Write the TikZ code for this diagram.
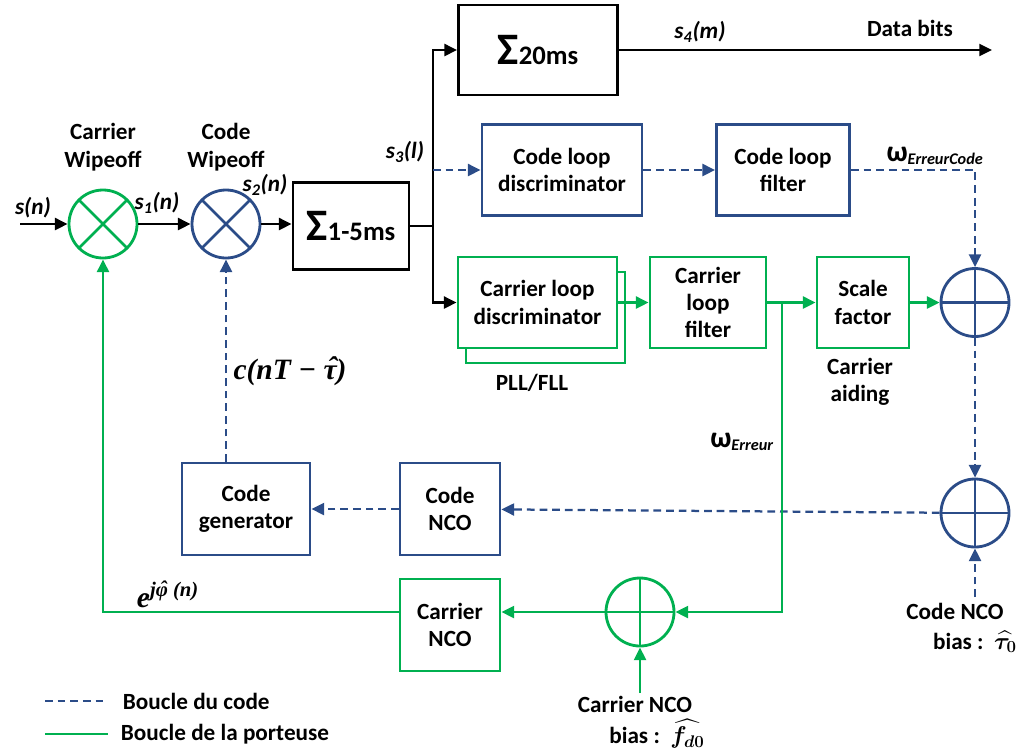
\documentclass[tikz,border=0pt]{standalone}
\usepackage{fontspec}
\setmainfont{Carlito}
\newfontfamily\lserif{Liberation Serif}
\usepackage{amsmath}
\usetikzlibrary{calc,arrows.meta,positioning}
\definecolor{CodeBlue}{HTML}{2B4C88}
\definecolor{CarrGreen}{HTML}{00B050}
\newcommand\hatchar[1]{\ooalign{#1\cr\hidewidth\kern0.15em\raisebox{0.1ex}{\char"02C6}\hidewidth\cr}}

\begin{document}
\begin{tikzpicture}[x=0.025cm,y=-0.025cm,
  font=\fontsize{16.5}{19.5}\selectfont\bfseries,
  >={Triangle[length=9pt,width=8.5pt]},
  box/.style={draw,line width=2pt,align=center,inner sep=0pt,fill=white},
  codebox/.style={box,draw=CodeBlue},
  carrbox/.style={box,draw=CarrGreen},
  mixer/.style={circle,draw=#1,line width=2pt,minimum size=1.7cm,inner sep=0pt,
    path picture={\draw[#1,line width=2pt]
      (path picture bounding box.north west)--(path picture bounding box.south east)
      (path picture bounding box.south west)--(path picture bounding box.north east);}},
  adder/.style={circle,draw=#1,line width=2pt,minimum size=1.7cm,inner sep=0pt,
    path picture={\draw[#1,line width=2pt]
      (path picture bounding box.north)--(path picture bounding box.south)
      (path picture bounding box.west)--(path picture bounding box.east);}},
  sigline/.style={black,line width=1.6pt},
  codeline/.style={CodeBlue,line width=1.6pt,dash pattern=on 5.5pt off 3.5pt},
  carrline/.style={CarrGreen,line width=1.6pt},
  lbl/.style={align=center},
  sig/.style={font=\fontsize{16.5}{19.5}\selectfont\bfseries\itshape},
  mathlbl/.style={font=\fontsize{21}{21}\selectfont\lserif\bfseries\itshape}
]
\useasboundingbox (0,0) rectangle (1023,751);

\node[mixer=CarrGreen] (mixA) at (103,224) {};
\node[mixer=CodeBlue] (mixB) at (226,224) {};
\node[box,minimum width=2.9cm,minimum height=2.175cm] (sumA) at (351,226)
  {{\fontsize{32}{32}\selectfont Σ}{\fontsize{19}{19}\selectfont 1-5ms}};
\node[box,minimum width=3.975cm,minimum height=2.25cm] (sumB) at (538,50)
  {{\fontsize{32}{32}\selectfont Σ}{\fontsize{19}{19}\selectfont 20ms}};
\node[codebox,minimum width=4cm,minimum height=2.275cm] (cdisc) at (562,170) {Code loop\\discriminator};
\node[codebox,minimum width=3.325cm,minimum height=2.275cm] (cfilt) at (783,170) {Code loop\\filter};
\node[carrbox,minimum width=3.975cm,minimum height=2.275cm] (pdiscb) at (545.5,317.5) {};
\node[carrbox,minimum width=3.975cm,minimum height=2.275cm] (pdisc) at (537.5,302.5) {Carrier loop\\discriminator};
\node[carrbox,minimum width=2.9cm,minimum height=2.275cm] (pfilt) at (708,302.5) {Carrier\\loop\\filter};
\node[carrbox,minimum width=2.3cm,minimum height=2.275cm] (scale) at (863,302.5) {Scale\\factor};
\node[adder=CodeBlue] (addA) at (975,302.5) {};
\node[adder=CodeBlue] (addB) at (975,513) {};
\node[adder=CarrGreen] (addC) at (640,612) {};
\node[codebox,minimum width=2.5cm,minimum height=2.3cm] (nco) at (450,509) {Code\\NCO};
\node[codebox,minimum width=3.2cm,minimum height=2.3cm] (gen) at (246,509) {Code\\generator};
\node[carrbox,minimum width=2.5cm,minimum height=2.3cm] (pnco) at (450,625) {Carrier\\NCO};

\coordinate (in) at (20,224);
\coordinate (split) at (433,226);
\coordinate (out) at (992,50);
\coordinate (tap) at (782,302.5);
\coordinate (biasA) at (975,597);
\coordinate (biasC) at (640,693);

\draw[sigline,->] (in) -- (mixA);
\draw[sigline,->] (mixA) -- (mixB);
\draw[sigline,->] (mixB) -- (mixB -| sumA.west);
\draw[sigline] (sumA.east) -- (split);
\draw[sigline,->] (split) |- (sumB);
\draw[sigline,->] (split) |- (pdisc);
\draw[sigline,->] (sumB) -- (out);
\draw[codeline,->] (split |- cdisc) -- (cdisc);
\draw[codeline,->] (cdisc) -- (cfilt);
\draw[codeline,->] (cfilt) -| (addA);
\draw[carrline,->] (pdisc) -- (pfilt);
\draw[carrline,->] (pfilt) -- (scale);
\draw[carrline,->] (scale) -- (addA);
\draw[codeline,->] (addA) -- (addB);
\draw[codeline,->] (biasA) -- (addB);
\draw[codeline,->] (addB) -- (nco);
\draw[codeline,->] (nco) -- (gen);
\draw[codeline,->] (mixB |- gen.north) -- (mixB);
\draw[carrline,->] (tap) |- (addC);
\draw[carrline,->] (biasC) -- (addC);
\draw[carrline,->] (addC) -- (addC -| pnco.east);
\draw[carrline,->] (pnco.west |- addC) -| (mixA);

\node[lbl] (wipeA) at (103,147) {Carrier\\Wipeoff};
\node[lbl] (wipeB) at (226,147) {Code\\Wipeoff};
\node[sig] (sn) at (33,208) {s(n)};
\node[sig] (s1) at (157,203) {s\textsubscript{1}(n)};
\node[sig] (s2) at (265,185) {s\textsubscript{2}(n)};
\node[sig] (s3) at (405,152) {s\textsubscript{3}(l)};
\node[sig] (s4) at (700,32) {s\textsubscript{4}(m)};
\node (data) at (910,28) {Data bits};
\node (wcode) at (935,156) {{\fontsize{21}{21}\selectfont ω}\textsubscript{\itshape ErreurCode}};
\node (pll) at (532,383) {PLL/FLL};
\node[lbl] (aid) at (860,382) {Carrier\\aiding};
\node (werr) at (742,442) {{\fontsize{21}{21}\selectfont ω}\textsubscript{\itshape Erreur}};
\node[mathlbl] (ctau) at (290,372) {c(nT − \hatchar{τ})};
\node[mathlbl] (ephi) at (168,595) {e\textsuperscript{j\hatchar{φ} (n)}};
\node (biasAa) at (955,611) {Code NCO};
\node (biasAb) at (975,642) {bias :\ \ {\boldmath$\widehat{\tau_0}$}};
\node (biasCa) at (635,704) {Carrier NCO};
\node (biasCb) at (657,734) {bias :\ \ {\boldmath$\widehat{f_{d0}}$}};

\coordinate (legA1) at (45,701);
\coordinate (legA2) at (108,701);
\coordinate (legB1) at (45,734);
\coordinate (legB2) at (108,734);
\draw[codeline] (legA1) -- (legA2);
\draw[carrline] (legB1) -- (legB2);
\node[anchor=west] (legA) at (118,701) {Boucle du code};
\node[anchor=west] (legB) at (116,734) {Boucle de la porteuse};
\end{tikzpicture}
\end{document}
